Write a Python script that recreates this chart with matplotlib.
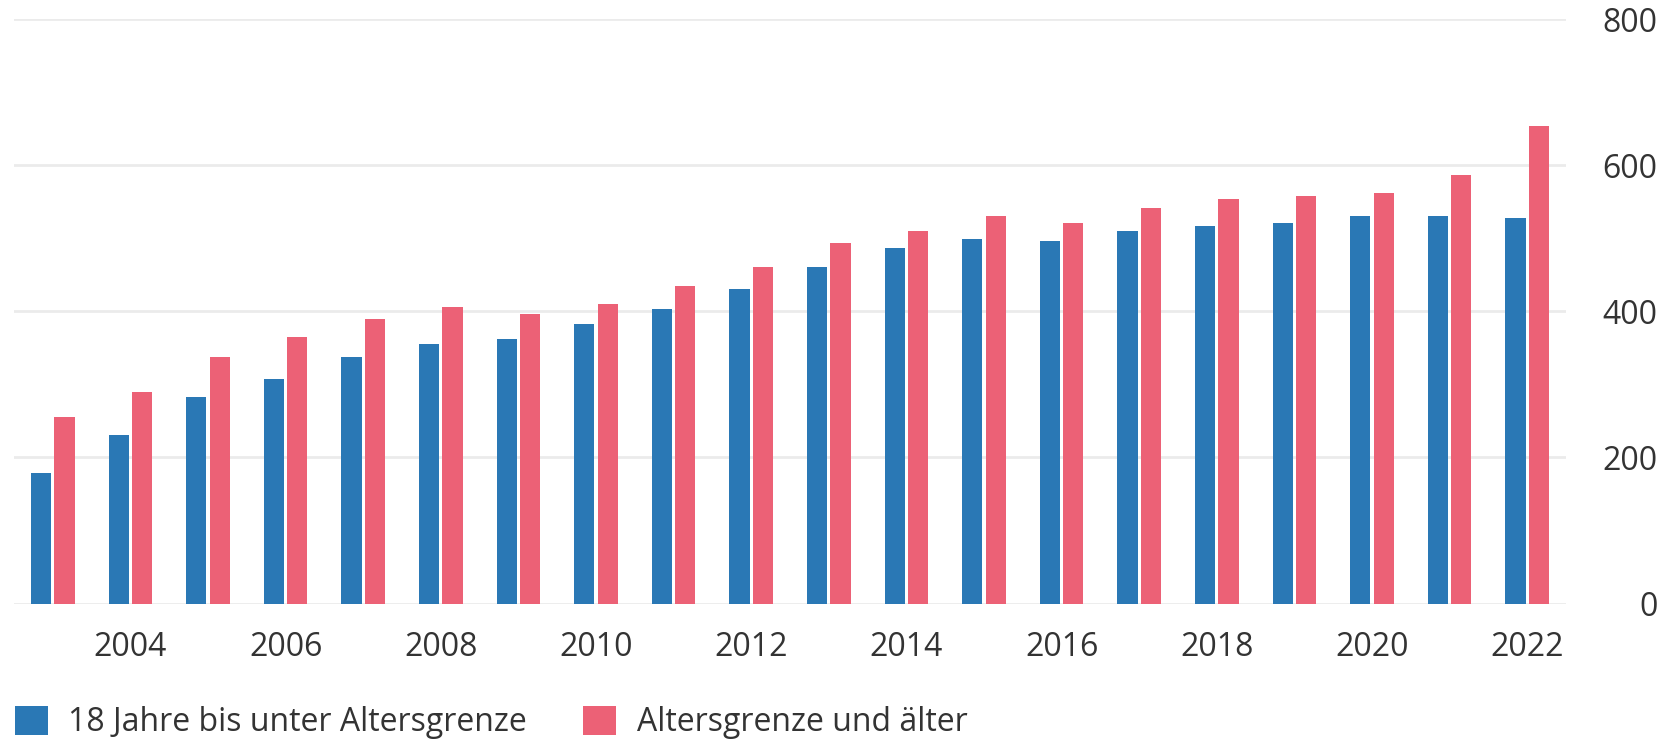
import numpy as np
import matplotlib
matplotlib.use("Agg")
import matplotlib.pyplot as plt
from matplotlib.patches import Patch

plt.rcParams['font.family'] = ['Open Sans', 'DejaVu Sans']

years = list(range(2003, 2023))
young = [179, 231, 283, 307, 338, 355, 362, 383, 403, 431,
         461, 486, 499, 496, 510, 517, 521, 530, 530, 527]
old = [255, 289, 338, 365, 389, 406, 396, 410, 434, 461,
       493, 510, 530, 521, 541, 554, 558, 562, 586, 654]
labels = ["18 Jahre bis unter Altersgrenze", "Altersgrenze und älter"]
colors = ["#2a78b5", "#ec6176"]
yticks = [0, 200, 400, 600, 800]

fig = plt.figure(figsize=(16.64, 7.41), dpi=100)
ax = fig.add_axes([14 / 1664, 1 - 603.5 / 741, (1566 - 14) / 1664, (603.5 - 19) / 741])

x = np.array(years)
w = 0.262
ax.bar(x - 0.151, young, width=w, color=colors[0], zorder=3)
ax.bar(x + 0.151, old, width=w, color=colors[1], zorder=3)

ax.set_xlim(2002.5, 2022.5)
ax.set_ylim(0, 800)
ax.set_yticks(yticks)
ax.set_xticks(years[1::2])
ax.yaxis.tick_right()
ax.grid(axis='y', color='#ebebeb', linewidth=2, zorder=0)
for s in ax.spines.values():
    s.set_visible(False)
ax.tick_params(axis='both', length=0, labelsize=23, labelcolor='#333333')
ax.tick_params(axis='y', pad=66)
ax.tick_params(axis='x', pad=20)
for t in ax.get_yticklabels():
    t.set_horizontalalignment('right')

handles = [Patch(facecolor=c, edgecolor='none') for c in colors]
fig.legend(handles, labels, loc='lower left', bbox_to_anchor=(0.005, -0.006),
           ncol=2, frameon=False, fontsize=23, labelcolor='#333333',
           handlelength=1.03, handleheight=1.03, handletextpad=0.65,
           columnspacing=1.75, borderaxespad=0.0, borderpad=0.2)

fig.savefig("out.png", dpi=100)
